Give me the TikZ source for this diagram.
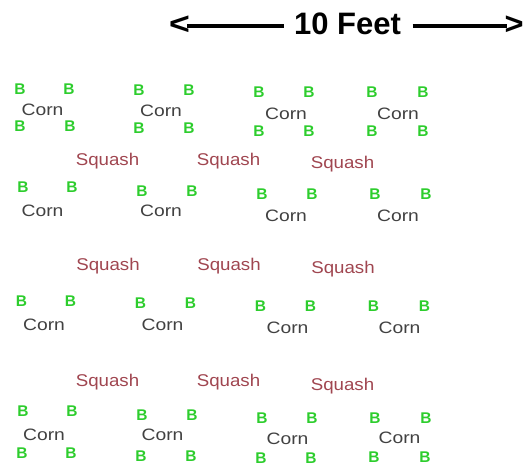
\documentclass[tikz,border=0pt]{standalone}
\usepackage{fontspec}
\usepackage{graphicx}
\setmainfont{Liberation Sans}
\definecolor{beangreen}{RGB}{45,205,45}
\definecolor{corngray}{RGB}{65,65,65}
\definecolor{squashred}{RGB}{160,70,80}
\begin{document}
\begin{tikzpicture}[x=1pt,y=-1pt,
  txt/.style={inner sep=0pt,outer sep=0pt,anchor=base},
  bean/.style={txt,text=beangreen,font=\fontsize{15.5}{15.5}\selectfont\bfseries},
  corn/.style={txt,text=corngray,font=\fontsize{16.5}{16.5}\selectfont},
  squash/.style={txt,text=squashred,font=\fontsize{17}{17}\selectfont},
  titletext/.style={txt,text=black,font=\fontsize{31}{31}\selectfont\bfseries},
  rule/.style={line width=3.5pt,black}]
\useasboundingbox (0,0) rectangle (524,465);
% title
\node[titletext,anchor=base west] (la) at (169,35) {\scalebox{1.15}[1]{<}};
\node[titletext] (ttl) at (347.5,35) {10 Feet};
\node[titletext,anchor=base east] (ra) at (523.5,35) {\scalebox{1.05}[1]{>}};
\coordinate (l1) at (187,26.2);
\coordinate (l2) at (284,26.2);
\coordinate (r1) at (412.5,26.2);
\coordinate (r2) at (507,26.2);
\draw[rule] (l1) -- (l2);
\draw[rule] (r1) -- (r2);
% corn with top beans
\foreach \n/\lx/\rx/\cx/\tb/\cb in {
  11/20/69/42.5/94.5/116, 12/139/189/161/95.5/117, 13/259/309/286/98/120, 14/372/423/398/98/120,
  21/23/72/42.5/193/216, 22/142/192/161/196/216, 23/262/312/286/199/221, 24/375/426/398/199/221,
  31/21.5/70.5/44/306/330, 32/140.5/190.5/162.5/308/330, 33/260.5/310.5/287.5/311.5/333, 34/373.5/424.5/399.5/311.5/333,
  41/23/72/44/416.5/440, 42/142/192/162.5/420/440, 43/262/312/287.5/423/444, 44/375/426/399.5/423/443}{
  \node[bean] (t\n l) at (\lx,\tb) {B};
  \node[bean] (t\n r) at (\rx,\tb) {B};
  \node[corn] (c\n) at (\cx,\cb) {\scalebox{1.17}[1]{Corn}};
}
% bottom beans
\foreach \n/\lx/\rx/\bb in {
  11/20/70/132, 12/139/189/134, 13/259/309/137, 14/372/423/137,
  41/22/71/458, 42/141/191/461, 43/261/311/463, 44/374/425/462}{
  \node[bean] (b\n l) at (\lx,\bb) {B};
  \node[bean] (b\n r) at (\rx,\bb) {B};
}
% squash
\foreach \n/\sx/\sb in {
  11/107.5/165, 12/228.5/165, 13/342.5/168,
  21/108/270, 22/229/270, 23/343/273,
  31/107.5/386.5, 32/228.5/386.5, 33/342.5/390}{
  \node[squash] (s\n) at (\sx,\sb) {\scalebox{1.1}[1]{Squash}};
}
\end{tikzpicture}
\end{document}
